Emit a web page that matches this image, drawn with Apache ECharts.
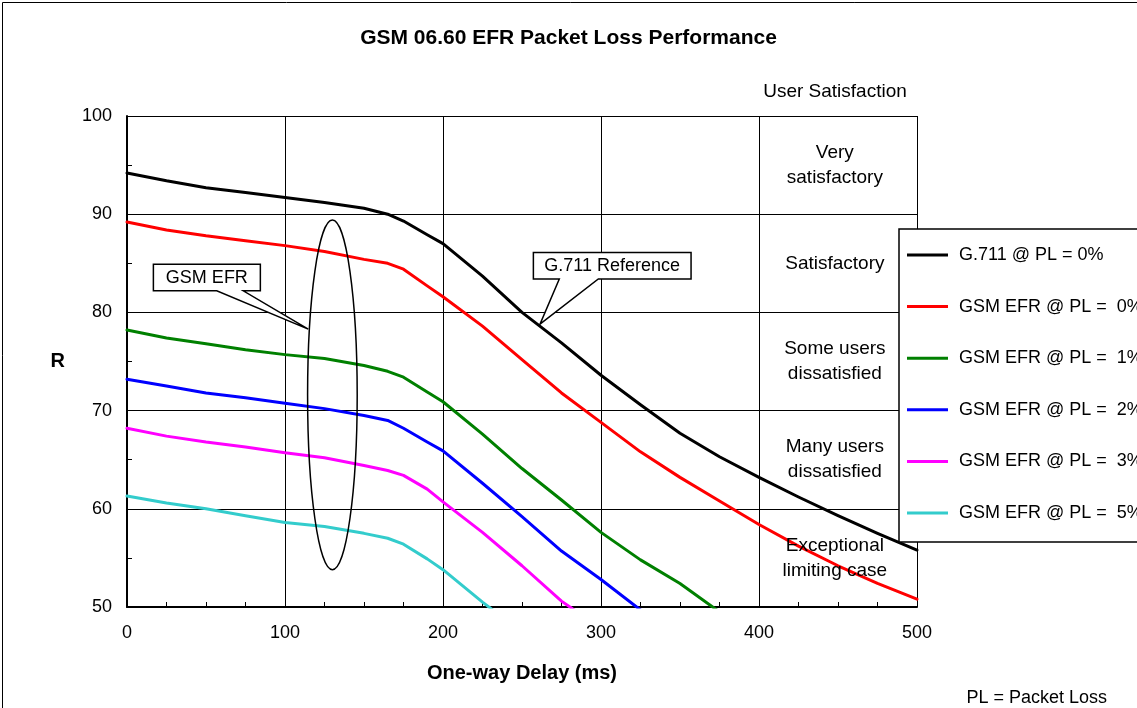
<!DOCTYPE html>
<html><head><meta charset="utf-8">
<script src="https://cdn.jsdelivr.net/npm/echarts@6/dist/echarts.min.js"></script>
<style>html,body{margin:0;padding:0;background:#fff}#c{width:1137px;height:708px}</style>
</head><body><div id="c"></div>
<script>
// ---- data ----
const delays = [0,25,50,75,100,125,150,165,175,190,200,225,250,275,300,325,350,375,400,425,450,475,500];
const g711 = [94.2,93.4,92.7,92.2,91.7,91.2,90.6,90.0,89.3,87.9,87.0,83.7,80.0,76.9,73.6,70.6,67.7,65.3,63.2,61.2,59.3,57.5,55.8];
const efr0 = [89.2,88.4,87.8,87.3,86.8,86.2,85.4,85.0,84.4,82.7,81.6,78.6,75.2,71.8,68.8,65.8,63.2,60.8,58.4,56.2,54.2,52.4,50.8];
const efr1 = [78.2,77.4,76.8,76.2,75.7,75.3,74.6,74.0,73.4,71.9,70.9,67.6,64.1,60.9,57.6,54.8,52.4,49.5];
const efr2 = [73.2,72.5,71.8,71.3,70.75,70.2,69.5,69.0,68.2,66.8,65.9,62.6,59.2,55.7,52.8,49.7];
const efr3 = [68.2,67.4,66.8,66.3,65.7,65.2,64.4,63.9,63.4,62.0,60.7,57.6,54.2,50.6,47.8];
const efr5 = [61.3,60.6,60.0,59.3,58.6,58.2,57.5,57.0,56.4,54.9,53.8,50.5,47.4];
const seriesNames = ['G.711 @ PL = 0%','GSM EFR @ PL =  0%','GSM EFR @ PL =  1%','GSM EFR @ PL =  2%','GSM EFR @ PL =  3%','GSM EFR @ PL =  5%'];
const seriesColors = ['#000000','#ff0000','#008000','#0000ff','#ff00ff','#33cccc'];
const xTicks = [0,100,200,300,400,500];
const yTicks = [50,60,70,80,90,100];
const zoneLabels = ['Very\nsatisfactory','Satisfactory','Some users\ndissatisfied','Many users\ndissatisfied','Exceptional\nlimiting case'];
const zoneR = [95,85,75,65,55];
const zoneX = 448;

const FONT = '"Liberation Sans", Arial, sans-serif';
const allValues = [g711, efr0, efr1, efr2, efr3, efr5];
const lineSeries = allValues.map((vals, i) => ({
  name: seriesNames[i],
  type: 'line',
  data: vals.map((v, k) => [delays[k], v]),
  showSymbol: false,
  symbol: 'none',
  smooth: false,
  clip: true,
  lineStyle: { color: seriesColors[i], width: 3, join: 'round', cap: 'round' },
  itemStyle: { color: seriesColors[i] },
  z: 3
}));

const zoneSeries = {
  name: 'zones',
  type: 'scatter',
  symbolSize: 0,
  silent: true,
  itemStyle: { opacity: 1, color: '#000' },
  data: zoneLabels.map((t, i) => ({ name: t, value: [zoneX, zoneR[i]] })),
  label: {
    show: true, position: 'inside', formatter: p => p.name, opacity: 1,
    fontFamily: FONT, fontSize: 19, color: '#000', lineHeight: 25, align: 'center', verticalAlign: 'middle'
  },
  z: 5
};

const chart = echarts.init(document.getElementById('c'), null, { renderer: 'canvas' });
const option = {
  animation: false,
  backgroundColor: '#fff',
  textStyle: { fontFamily: FONT },
  title: {
    text: 'GSM 06.60 EFR Packet Loss Performance',
    left: 'center', top: 28, padding: 0,
    textStyle: { fontFamily: FONT, fontSize: 21, fontWeight: 'bold', color: '#000' }
  },
  grid: { left: 127, top: 116, right: 220, bottom: 101, containLabel: false },
  legend: {
    orient: 'vertical',
    left: 899, top: 229,
    data: seriesNames,
    icon: 'rect',
    itemWidth: 41, itemHeight: 3,
    itemGap: 33.6,
    padding: [17, 20, 20, 8],
    backgroundColor: '#fff',
    borderColor: '#000', borderWidth: 1.5,
    textStyle: { fontFamily: FONT, fontSize: 18, color: '#000', padding: [0, 0, 0, 6] },
    z: 10
  },
  xAxis: {
    type: 'value', min: 0, max: 500, interval: 100,
    name: 'One-way Delay (ms)', nameLocation: 'middle', nameGap: 56,
    nameTextStyle: { fontFamily: FONT, fontSize: 20, fontWeight: 'bold', color: '#000' },
    axisLine: { show: true, lineStyle: { color: '#000', width: 2 } },
    axisTick: { show: false, inside: true },
    minorTick: { show: true, splitNumber: 4, length: 5, lineStyle: { color: '#000', width: 1 } },
    splitLine: { show: true, lineStyle: { color: '#000', width: 1 } },
    axisLabel: { fontFamily: FONT, fontSize: 18, color: '#000', margin: 17,
      formatter: v => xTicks.includes(v) ? String(v) : '' }
  },
  yAxis: {
    type: 'value', min: 50, max: 100, interval: 10,
    name: 'R', nameLocation: 'middle', nameGap: 62, nameRotate: 0,
    nameTextStyle: { fontFamily: FONT, fontSize: 20, fontWeight: 'bold', color: '#000' },
    axisLine: { show: true, lineStyle: { color: '#000', width: 2 } },
    axisTick: { show: false, inside: true },
    minorTick: { show: true, splitNumber: 2, length: 5, lineStyle: { color: '#000', width: 1 } },
    splitLine: { show: true, lineStyle: { color: '#000', width: 1 } },
    axisLabel: { fontFamily: FONT, fontSize: 18, color: '#000', margin: 15,
      formatter: v => yTicks.includes(v) ? String(v) : '' }
  },
  series: lineSeries.concat([zoneSeries])
};
chart.setOption(option);

// ---- annotations placed through the axes ----
const P = (x, r) => chart.convertToPixel({ gridIndex: 0 }, [x, r]);
function callout(text, x0, x1, r0, r1, b1, b2, tip) {
  const tl = P(x0, r0), br = P(x1, r1);
  const pb1 = P(b1, r1), pb2 = P(b2, r1), pt = P(tip[0], tip[1]);
  const pts = [[tl[0], tl[1]], [br[0], tl[1]], [br[0], br[1]], [pb2[0], br[1]], pt, [pb1[0], br[1]], [tl[0], br[1]]];
  return [
    { type: 'polygon', shape: { points: pts }, style: { fill: '#fff', stroke: '#000', lineWidth: 1.5 }, z: 20 },
    { type: 'text', x: (tl[0] + br[0]) / 2, y: (tl[1] + br[1]) / 2,
      style: { text: text, font: '18px ' + FONT, fill: '#000', align: 'center', verticalAlign: 'middle' }, z: 21 }
  ];
}
const ec = P(130, 71.6), ee = P(130 + 15.7, 71.6 + 17.8);
const graphics = [
  { type: 'rect', shape: { x: 2.5, y: 2.5, width: 1300, height: 900 }, style: { fill: 'none', stroke: '#000', lineWidth: 1 }, z: 0, silent: true },
  { type: 'ellipse', shape: { cx: ec[0], cy: ec[1], rx: ee[0] - ec[0], ry: ec[1] - ee[1] },
    style: { fill: 'none', stroke: '#000', lineWidth: 1.5 }, z: 19 },
  ...callout('GSM EFR', 16.7, 84.4, 84.9, 82.2, 56.8, 73.6, [114.7, 78.3]),
  ...callout('G.711 Reference', 257.2, 357, 86.1, 83.4, 273.6, 298.3, [261.4, 78.8]),
  { type: 'text', x: 835, y: 92, style: { text: 'User Satisfaction', font: '19px ' + FONT, fill: '#000', align: 'center', verticalAlign: 'middle' }, z: 20 },
  { type: 'text', x: 1107, y: 698, style: { text: 'PL = Packet Loss', font: '18px ' + FONT, fill: '#000', align: 'right', verticalAlign: 'middle' }, z: 20 }
];
chart.setOption({ graphic: graphics });
</script>
</body></html>
